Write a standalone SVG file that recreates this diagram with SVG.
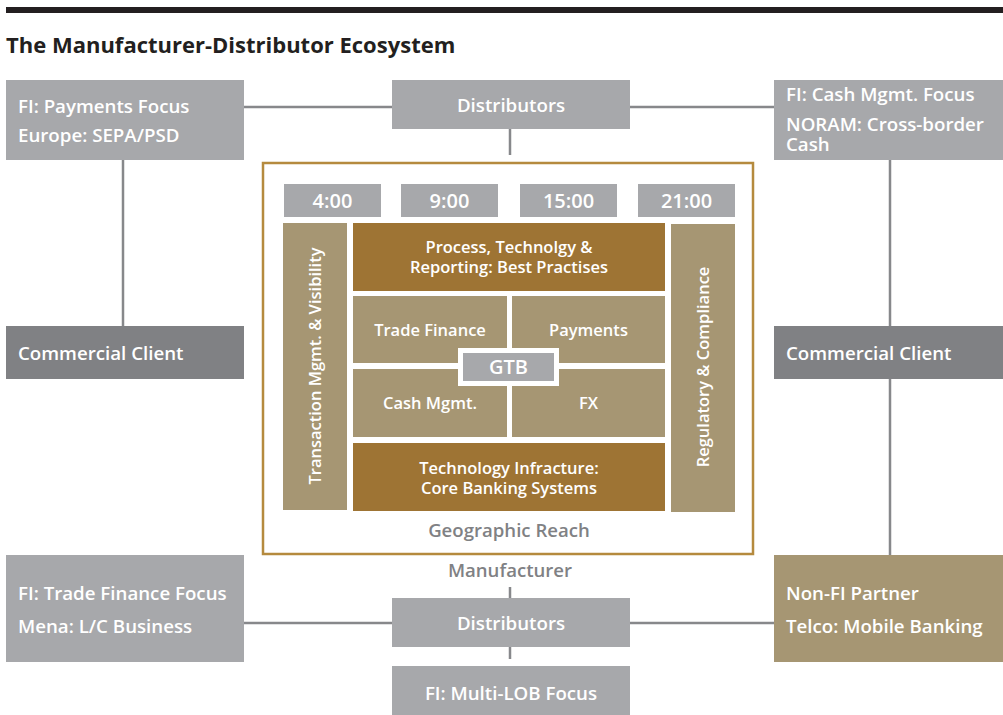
<svg xmlns="http://www.w3.org/2000/svg" width="1003" height="715" viewBox="0 0 1003 715">
<style>
text{font-family:"Open Sans",Lato,"Liberation Sans",sans-serif;font-weight:600;fill:#ffffff}
.g{fill:#a7a8ab}
.dg{fill:#808184}
.tan{fill:#a69673}
.br{fill:#9e7434}
.lbl{font-size:18.7px}
.in{font-size:16.5px}
.tm{font-size:20px}
.gr{fill:#808184;font-size:18.6px}
.ln{stroke:#87888b;stroke-width:2.5;fill:none}
</style>
<rect x="6" y="7" width="997" height="6" fill="#231f20"/>
<text x="6" y="53" style="font-size:22px;font-weight:700;fill:#231f20">The Manufacturer-Distributor Ecosystem</text>

<g id="connectors">
<line class="ln" x1="244" y1="107" x2="392" y2="107"/>
<line class="ln" x1="630" y1="107" x2="774" y2="107"/>
<line class="ln" x1="510" y1="129" x2="510" y2="155"/>
<line class="ln" x1="123" y1="160" x2="123" y2="326"/>
<line class="ln" x1="890" y1="160" x2="890" y2="555"/>
<line class="ln" x1="510" y1="587" x2="510" y2="598"/>
<line class="ln" x1="510" y1="647" x2="510" y2="659"/>
<line class="ln" x1="244" y1="623" x2="392" y2="623"/>
<line class="ln" x1="630" y1="623" x2="774" y2="623"/>
</g>

<g id="fi-payments">
<rect class="g" x="6" y="80" width="238" height="80"/>
<text class="lbl" x="18" y="113">FI: Payments Focus</text>
<text class="lbl" x="18" y="142">Europe: SEPA/PSD</text>
</g>
<g id="distributors-top">
<rect class="g" x="392" y="80" width="238" height="49"/>
<text class="lbl" x="511" y="112" text-anchor="middle">Distributors</text>
</g>
<g id="fi-cash">
<rect class="g" x="774" y="80" width="229" height="80"/>
<text class="lbl" x="786" y="101">FI: Cash Mgmt. Focus</text>
<text class="lbl" x="786" y="131">NORAM: Cross-border</text>
<text class="lbl" x="786" y="151">Cash</text>
</g>
<g id="commercial-left">
<rect class="dg" x="6" y="326" width="238" height="53"/>
<text class="lbl" x="18" y="360">Commercial Client</text>
</g>
<g id="commercial-right">
<rect class="dg" x="774" y="326" width="229" height="53"/>
<text class="lbl" x="786" y="360">Commercial Client</text>
</g>

<g id="manufacturer">
<rect x="263" y="163" width="490" height="391" fill="#ffffff" stroke="#b58a3e" stroke-width="2.5"/>
<g id="times">
<rect class="g" x="284" y="184" width="97" height="33"/>
<text class="tm" x="332.5" y="208" text-anchor="middle">4:00</text>
<rect class="g" x="401" y="184" width="97" height="33"/>
<text class="tm" x="449.5" y="208" text-anchor="middle">9:00</text>
<rect class="g" x="520" y="184" width="97" height="33"/>
<text class="tm" x="568.5" y="208" text-anchor="middle">15:00</text>
<rect class="g" x="638" y="184" width="97" height="33"/>
<text class="tm" x="686.5" y="208" text-anchor="middle">21:00</text>
</g>
<g id="transaction">
<rect class="tan" x="283" y="223" width="64" height="287"/>
<text class="in" transform="translate(321 366) rotate(-90)" text-anchor="middle">Transaction Mgmt. &amp; Visibility</text>
</g>
<g id="regulatory">
<rect class="tan" x="671" y="224" width="64" height="288"/>
<text class="in" transform="translate(709 367) rotate(-90)" text-anchor="middle">Regulatory &amp; Compliance</text>
</g>
<g id="process">
<rect class="br" x="353" y="223" width="312" height="68"/>
<text class="in" x="509" y="253" text-anchor="middle">Process, Technolgy &amp;</text>
<text class="in" x="509" y="273" text-anchor="middle">Reporting: Best Practises</text>
</g>
<g id="trade-finance">
<rect class="tan" x="353" y="296" width="154" height="67"/>
<text class="in" x="430" y="336" text-anchor="middle">Trade Finance</text>
</g>
<g id="payments">
<rect class="tan" x="512" y="296" width="153" height="67"/>
<text class="in" x="588.5" y="336" text-anchor="middle">Payments</text>
</g>
<g id="cash-mgmt">
<rect class="tan" x="353" y="369" width="154" height="68"/>
<text class="in" x="430" y="409" text-anchor="middle">Cash Mgmt.</text>
</g>
<g id="fx">
<rect class="tan" x="512" y="369" width="153" height="68"/>
<text class="in" x="588.5" y="409" text-anchor="middle">FX</text>
</g>
<g id="gtb">
<rect x="458" y="348" width="101" height="38" fill="#ffffff"/>
<rect class="g" x="463" y="353" width="91" height="28"/>
<text x="508.5" y="374" text-anchor="middle" style="font-size:20px">GTB</text>
</g>
<g id="technology">
<rect class="br" x="353" y="443" width="312" height="68"/>
<text class="in" x="509" y="474" text-anchor="middle">Technology Infracture:</text>
<text class="in" x="509" y="494" text-anchor="middle">Core Banking Systems</text>
</g>
<text class="gr" x="509" y="537" text-anchor="middle">Geographic Reach</text>
<text class="gr" x="510" y="577" text-anchor="middle">Manufacturer</text>
</g>

<g id="fi-trade">
<rect class="g" x="6" y="555" width="238" height="107"/>
<text class="lbl" x="18" y="600">FI: Trade Finance Focus</text>
<text class="lbl" x="18" y="633">Mena: L/C Business</text>
</g>
<g id="distributors-bottom">
<rect class="g" x="392" y="598" width="238" height="49"/>
<text class="lbl" x="511" y="630" text-anchor="middle">Distributors</text>
</g>
<g id="fi-multi">
<rect class="g" x="392" y="666" width="238" height="49"/>
<text class="lbl" x="511" y="700" text-anchor="middle">FI: Multi-LOB Focus</text>
</g>
<g id="non-fi">
<rect class="tan" x="774" y="555" width="229" height="107"/>
<text class="lbl" x="786" y="600">Non-FI Partner</text>
<text class="lbl" x="786" y="633">Telco: Mobile Banking</text>
</g>
</svg>
